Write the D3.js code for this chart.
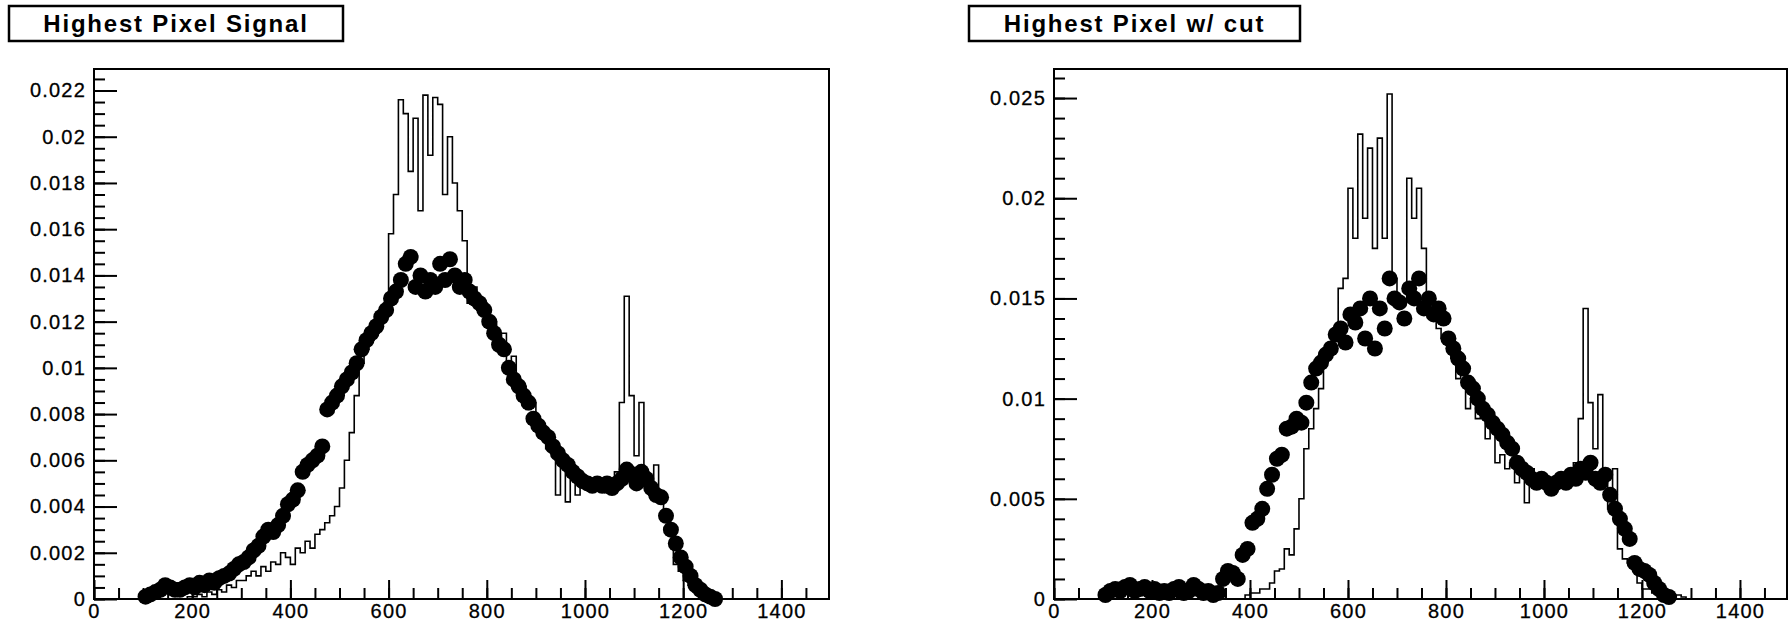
<!DOCTYPE html>
<html>
<head>
<meta charset="utf-8">
<script src="https://cdn.jsdelivr.net/npm/d3@7"></script>
<style>
  body { margin: 0; background: #fff; }
  text { font-family: "Liberation Sans", Arial, sans-serif; fill: #000; }
</style>
</head>
<body>
<div id="chart"></div>
<script>
// bins are 10 wide, starting at 100
var binLow = d3.range(100, 1300, 10)
var binWidth = 10

var xTicks = [0, 200, 400, 600, 800, 1000, 1200, 1400]

// left pad: "Highest Pixel Signal"
var yTicksL = [0, 0.002, 0.004, 0.006, 0.008, 0.01, 0.012, 0.014, 0.016, 0.018, 0.02, 0.022]
var yLabelsL = ["0", "0.002", "0.004", "0.006", "0.008", "0.01", "0.012", "0.014", "0.016", "0.018", "0.02", "0.022"]

var histL = [
  0, 0, 0, 0, 0, 0, 0, 0, 0, 0.0001,
  0.0001, 0.0002, 0.0001, 0.0003, 0.0002, 0.0004, 0.0003, 0.0006, 0.0005, 0.0008,
  0.0008, 0.001, 0.0012, 0.001, 0.0014, 0.0012, 0.0016, 0.0015, 0.002, 0.0018,
  0.0015, 0.0022, 0.002, 0.0025, 0.0022, 0.0028, 0.003, 0.0033, 0.0036, 0.004,
  0.0048, 0.006, 0.0072, 0.0088, 0.0102, 0.0108, 0.0112, 0.0115, 0.0125, 0.0128,
  0.0158, 0.0175, 0.0216, 0.021, 0.0185, 0.0208, 0.0168, 0.0218, 0.0192, 0.0217,
  0.0214, 0.0175, 0.02, 0.018, 0.0168, 0.0155, 0.0128, 0.0135, 0.0125, 0.0128,
  0.0118, 0.012, 0.0108, 0.0115, 0.0098, 0.0105, 0.009, 0.0092, 0.0082, 0.0085,
  0.0075, 0.0072, 0.0065, 0.0068, 0.0045, 0.0062, 0.0042, 0.0058, 0.0045, 0.0052,
  0.0048, 0.005, 0.0048, 0.005, 0.0046, 0.0052, 0.0055, 0.0085, 0.0131, 0.0088,
  0.0062, 0.0085, 0.005, 0.0045, 0.0058, 0.0042, 0.0035, 0.0028, 0.0015, 0.0012,
  0.0008, 0.0006, 0.0003, 0.0002, 0.0001, 0, 0, 0, 0, 0
]
var dotsL = [
  0.0001, 0.0002, 0.0003, 0.0004, 0.0006, 0.0005, 0.0004, 0.0004, 0.0005, 0.0006,
  0.0005, 0.0007, 0.0006, 0.0008, 0.0007, 0.0009, 0.001, 0.0011, 0.0013, 0.0015,
  0.0016, 0.0018, 0.0021, 0.0023, 0.0027, 0.003, 0.0029, 0.0032, 0.0036, 0.0041,
  0.0043, 0.0047, 0.0055, 0.0058, 0.006, 0.0062, 0.0066, 0.0082, 0.0085, 0.0088,
  0.0092, 0.0095, 0.0098, 0.0102, 0.0108, 0.0112, 0.0115, 0.0118, 0.0122, 0.0125,
  0.013, 0.0133, 0.0138, 0.0145, 0.0148, 0.0135, 0.014, 0.0133, 0.0138, 0.0135,
  0.0145, 0.0138, 0.0147, 0.014, 0.0135, 0.0138, 0.0133, 0.013, 0.0128, 0.0125,
  0.012, 0.0115, 0.011, 0.0108, 0.01, 0.0095, 0.0092, 0.0088, 0.0085, 0.0078,
  0.0075, 0.0072, 0.007, 0.0066, 0.0063, 0.006, 0.0058, 0.0055, 0.0053, 0.0051,
  0.005, 0.0049, 0.005, 0.0049, 0.005, 0.0048, 0.005, 0.0052, 0.0056, 0.0054,
  0.005, 0.0055, 0.0052, 0.0048, 0.0045, 0.0044, 0.0036, 0.003, 0.0024, 0.0018,
  0.0014, 0.001, 0.0006, 0.0004, 0.0002, 0.0001, 0, null, null, null
]

// right pad: "Highest Pixel w/ cut"
var yTicksR = [0, 0.005, 0.01, 0.015, 0.02, 0.025]
var yLabelsR = ["0", "0.005", "0.01", "0.015", "0.02", "0.025"]

var histR = [
  0, 0, 0, 0, 0, 0, 0, 0, 0, 0,
  0, 0, 0, 0, 0, 0, 0, 0, 0, 0,
  0, 0, 0, 0, 0, 0, 0, 0, 0, 0.0002,
  0.0003, 0.0003, 0.0005, 0.0005, 0.0008, 0.0014, 0.0015, 0.0025, 0.0022, 0.0035,
  0.005, 0.0075, 0.0085, 0.0095, 0.0105, 0.012, 0.0125, 0.0135, 0.0155, 0.016,
  0.0205, 0.018, 0.0232, 0.019, 0.0225, 0.0175, 0.023, 0.018, 0.0252, 0.016,
  0.015, 0.0148, 0.021, 0.019, 0.0205, 0.0175, 0.0145, 0.014, 0.0135, 0.013,
  0.0128, 0.012, 0.011, 0.0115, 0.0095, 0.01, 0.009, 0.0092, 0.008, 0.0085,
  0.0068, 0.0072, 0.0065, 0.0068, 0.0058, 0.0062, 0.0048, 0.0065, 0.0055, 0.006,
  0.0055, 0.0058, 0.0055, 0.006, 0.0058, 0.006, 0.0068, 0.009, 0.0145, 0.0098,
  0.0075, 0.0102, 0.006, 0.0045, 0.0065, 0.0025, 0.002, 0.0018, 0.0015, 0.0008,
  0.0005, 0.0005, 0.0003, 0.0002, 0.0003, 0.0002, 0.0001, 0.0002, 0.0001, 0
]
var dotsR = [
  0.0002, 0.0004, 0.0005, 0.0004, 0.0006, 0.0007, 0.0004, 0.0005, 0.0006, 0.0004,
  0.0005, 0.0003, 0.0004, 0.0003, 0.0005, 0.0006, 0.0003, 0.0004, 0.0007, 0.0005,
  0.0003, 0.0004, 0.0002, 0.0003, 0.001, 0.0014, 0.0013, 0.001, 0.0022, 0.0025,
  0.0038, 0.004, 0.0045, 0.0055, 0.0062, 0.007, 0.0072, 0.0085, 0.0086, 0.009,
  0.0088, 0.0098, 0.0108, 0.0115, 0.0118, 0.0122, 0.0125, 0.0132, 0.0135, 0.0128,
  0.0142, 0.0138, 0.0145, 0.013, 0.015, 0.0125, 0.0145, 0.0135, 0.016, 0.015,
  0.0148, 0.014, 0.0155, 0.015, 0.016, 0.0145, 0.015, 0.0142, 0.0145, 0.014,
  0.013, 0.0125, 0.012, 0.0115, 0.0108, 0.0105, 0.01, 0.0095, 0.0092, 0.0088,
  0.0085, 0.0082, 0.0078, 0.0075, 0.0068, 0.0065, 0.0063, 0.006, 0.0058, 0.006,
  0.0058, 0.0055, 0.0058, 0.006, 0.0058, 0.0062, 0.006, 0.0065, 0.0063, 0.0068,
  0.006, 0.0058, 0.0062, 0.0052, 0.0045, 0.004, 0.0035, 0.003, 0.0018, 0.0015,
  0.0014, 0.0012, 0.0008, 0.0005, 0.0002, 0.0001, null, null, null, null
]

var svg = d3.select("#chart").append("svg")
    .attr("width", 1788)
    .attr("height", 623)

function drawPad(opt) {
    var x = d3.scaleLinear().domain([0, opt.xMax]).range([opt.left, opt.right])
    var y = d3.scaleLinear().domain([0, opt.yMax]).range([opt.bottom, opt.top])
    var g = svg.append("g")

    // title box
    g.append("rect")
        .attr("x", opt.boxX).attr("y", 6)
        .attr("width", opt.boxW).attr("height", 35)
        .attr("fill", "#fff").attr("stroke", "#000").attr("stroke-width", 2.5)
    g.append("text")
        .attr("x", opt.boxX + opt.boxW / 2).attr("y", 32)
        .attr("text-anchor", "middle")
        .style("font-size", "24px").style("font-weight", "bold")
        .style("letter-spacing", "1.8px")
        .text(opt.title)

    // histogram outline
    var pts = opt.hist.map((v, i) => [binLow[i], v])
    pts.unshift([binLow[0], 0])
    pts.push([binLow[binLow.length - 1] + binWidth, opt.hist[opt.hist.length - 1]])
    pts.push([binLow[binLow.length - 1] + binWidth, 0])
    g.append("path")
        .attr("d", d3.line().x(d => x(d[0])).y(d => y(d[1])).curve(d3.curveStepAfter)(pts))
        .attr("fill", "none").attr("stroke", "#000").attr("stroke-width", 1.6)

    // markers
    g.selectAll("circle.dot")
        .data(opt.dots.map((v, i) => [binLow[i] + binWidth / 2, v]).filter(d => d[1] != null))
        .join("circle")
        .attr("class", "dot")
        .attr("cx", d => x(d[0]))
        .attr("cy", d => y(d[1]))
        .attr("r", 8)
        .attr("fill", "#000")

    // axes, ticks point inside the frame
    var xMinor = g.append("g").attr("transform", "translate(0," + opt.bottom + ")")
        .call(d3.axisBottom(x).tickValues(d3.range(0, opt.xMax, 50)).tickSize(-11).tickFormat(""))
    var xMajor = g.append("g").attr("transform", "translate(0," + opt.bottom + ")")
        .call(d3.axisBottom(x).tickValues(xTicks).tickSize(-19).tickPadding(4).tickFormat(d3.format("d")))
    var yMinor = g.append("g").attr("transform", "translate(" + opt.left + ",0)")
        .call(d3.axisLeft(y).tickValues(opt.yMinor).tickSize(-11).tickFormat(""))
    var yMajor = g.append("g").attr("transform", "translate(" + opt.left + ",0)")
        .call(d3.axisLeft(y).tickValues(opt.yTicks).tickSize(-23).tickPadding(8)
            .tickFormat((d, i) => opt.yLabels[i]))
    ;[xMinor, xMajor, yMinor, yMajor].forEach(a => {
        a.select(".domain").remove()
        a.selectAll("line").attr("stroke", "#000").attr("stroke-width", 2)
        a.selectAll("text").style("font-size", "20px").attr("fill", "#000")
            .style("font-family", "'Liberation Sans', Arial, sans-serif")
            .style("letter-spacing", "1.2px")
            .attr("stroke", "#000").attr("stroke-width", 0.3)
    })
    xMajor.selectAll("text").attr("dy", "0.75em")

    // frame
    g.append("rect")
        .attr("x", opt.left).attr("y", opt.top)
        .attr("width", opt.right - opt.left).attr("height", opt.bottom - opt.top)
        .attr("fill", "none").attr("stroke", "#000").attr("stroke-width", 2)
}

drawPad({
    title: "Highest Pixel Signal", boxX: 9, boxW: 334,
    left: 94, right: 829, top: 69, bottom: 599,
    xMax: 1497, yMax: 0.02293,
    yTicks: yTicksL, yLabels: yLabelsL,
    yMinor: d3.range(0, 0.0229, 0.0005),
    hist: histL, dots: dotsL
})

drawPad({
    title: "Highest Pixel w/ cut", boxX: 969, boxW: 331,
    left: 1054, right: 1787, top: 69, bottom: 599,
    xMax: 1496, yMax: 0.02645,
    yTicks: yTicksR, yLabels: yLabelsR,
    yMinor: d3.range(0, 0.0264, 0.001),
    hist: histR, dots: dotsR
})
</script>
</body>
</html>
